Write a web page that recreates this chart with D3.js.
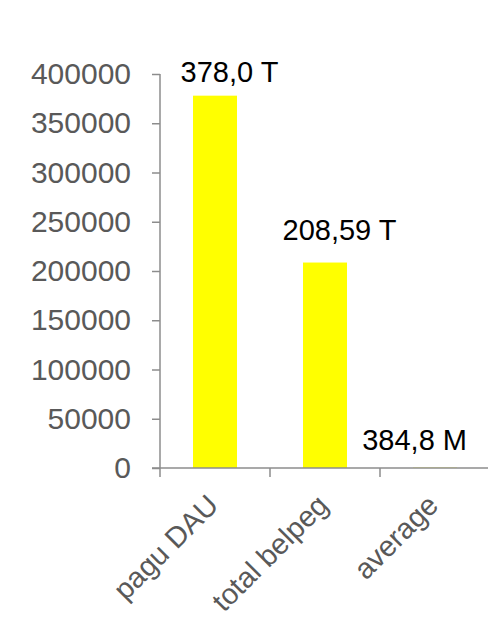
<!DOCTYPE html>
<html>
<head>
<meta charset="utf-8">
<script src="https://cdn.jsdelivr.net/npm/d3@7"></script>
<style>
  html, body { margin: 0; padding: 0; background: #fff; }
  svg { display: block; font-family: "Liberation Sans", Arial, sans-serif; }
</style>
</head>
<body>
<svg width="488" height="620"></svg>
<script>
// data *************************************************************
var categories = ['pagu DAU', 'total belpeg', 'average'];
var values = [378000, 208590, 384.8];
var valueLabels = ['378,0 T', '208,59 T', '384,8 M'];
var yTicks = [0, 50000, 100000, 150000, 200000, 250000, 300000, 350000, 400000];

// layout ***********************************************************
var svg = d3.select('svg');
var plotLeft = 160, plotRight = 490, plotTop = 74, plotBottom = 468;
var labelGap = [14, 23, 18];

var x = d3.scaleBand()
    .domain(categories)
    .range([plotLeft, plotRight])
    .paddingInner(0)
    .paddingOuter(0);

var y = d3.scaleLinear()
    .domain([0, 400000])
    .range([plotBottom, plotTop]);

var axisColor = '#8c8c8c';
var textColor = '#595959';

// bars
svg.selectAll('rect.bar')
    .data(values)
    .enter().append('rect')
    .attr('class', 'bar')
    .attr('x', (d, i) => x(categories[i]) + x.bandwidth() * 0.3)
    .attr('width', x.bandwidth() * 0.4)
    .attr('y', d => y(d))
    .attr('height', d => plotBottom - y(d))
    .attr('fill', '#ffff00');

// y axis
var yAxis = svg.append('g')
    .attr('transform', `translate(${plotLeft},0)`)
    .call(d3.axisLeft(y).tickValues(yTicks).tickSize(8).tickPadding(21).tickFormat(d3.format('d')));
yAxis.select('.domain').remove();
yAxis.selectAll('.tick line').attr('stroke', axisColor).attr('stroke-width', 1.5);
yAxis.selectAll('.tick text')
    .attr('fill', textColor)
    .attr('font-size', 30)
    .attr('font-family', '"Liberation Sans", Arial, sans-serif');
svg.append('line')
    .attr('x1', plotLeft).attr('x2', plotLeft)
    .attr('y1', plotTop).attr('y2', plotBottom)
    .attr('stroke', axisColor).attr('stroke-width', 1.5);

// x axis
svg.append('line')
    .attr('x1', plotLeft - 8).attr('x2', plotRight)
    .attr('y1', plotBottom).attr('y2', plotBottom)
    .attr('stroke', axisColor).attr('stroke-width', 1.5);
svg.selectAll('line.xtick')
    .data(categories)
    .enter().append('line')
    .attr('class', 'xtick')
    .attr('x1', d => x(d)).attr('x2', d => x(d))
    .attr('y1', plotBottom).attr('y2', plotBottom + 9)
    .attr('stroke', axisColor).attr('stroke-width', 1.5);

svg.selectAll('text.xlabel')
    .data(categories)
    .enter().append('text')
    .attr('class', 'xlabel')
    .attr('transform', d => `translate(${x(d) + x.bandwidth() / 2 + 5},${plotBottom + 39}) rotate(-45)`)
    .attr('text-anchor', 'end')
    .attr('font-size', 29)
    .attr('fill', textColor)
    .text(d => d);

// value labels
svg.selectAll('text.vlabel')
    .data(values)
    .enter().append('text')
    .attr('class', 'vlabel')
    .attr('font-size', 29)
    .attr('fill', '#000')
    .attr('text-anchor', 'middle')
    .attr('y', (d, i) => y(d) - labelGap[i])
    .text((d, i) => valueLabels[i])
    .attr('x', function (d, i) {
        var cx = x(categories[i]) + x.bandwidth() / 2 + 14.5;
        var half = this.getComputedTextLength() / 2;
        return Math.min(cx, 467 - half);
    });
</script>
</body>
</html>
